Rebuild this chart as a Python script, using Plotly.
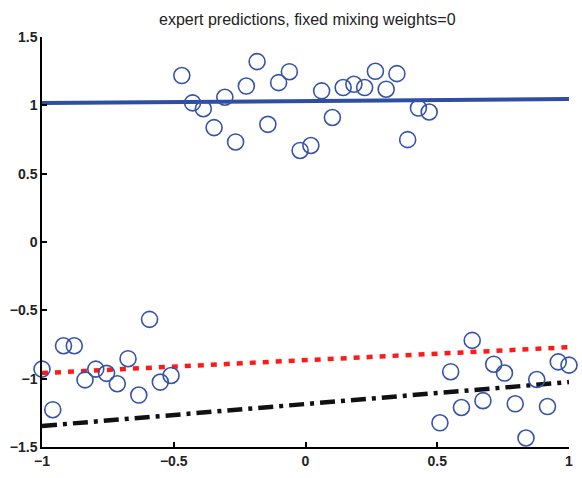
import numpy as np
import plotly.graph_objects as go

# data
x_pts = np.linspace(-1, 1, 50)
y_pts = [
    -0.930, -1.227, -0.759, -0.759, -1.009, -0.930, -0.961, -1.037, -0.854, -1.120,
    -0.566, -1.025, -0.977,
    1.218, 1.018, 0.975, 0.837, 1.059, 0.732, 1.141, 1.320, 0.861, 1.166,
    1.246, 0.670, 0.706, 1.106, 0.911, 1.130, 1.154, 1.130, 1.249, 1.118,
    1.232, 0.749, 0.980, 0.951,
    -1.323, -0.949, -1.211, -0.720, -1.161, -0.894, -0.959, -1.184, -1.434,
    -1.006, -1.204, -0.877, -0.901,
]
line_x = [-1, 1]
expert1_y = [1.017, 1.046]      # blue solid
expert2_y = [-0.959, -0.770]    # red dotted
mixture_y = [-1.346, -1.025]    # black dash-dot

x_ticks = [-1, -0.5, 0, 0.5, 1]
x_ticktext = ["\u22121", "\u22120.5", "0", "0.5", "1"]
y_ticks = [-1.5, -1, -0.5, 0, 0.5, 1, 1.5]
y_ticktext = ["\u22121.5", "\u22121", "\u22120.5", "0", "0.5", "1", "1.5"]

title = "expert predictions, fixed mixing weights=0"

fig = go.Figure()
fig.add_trace(go.Scatter(x=line_x, y=expert1_y, mode="lines",
                         line=dict(color="#2d4ea3", width=4), cliponaxis=False))
fig.add_trace(go.Scatter(x=line_x, y=expert2_y, mode="lines",
                         line=dict(color="#ff1a1a", width=4.5, dash="6px,7px"), cliponaxis=False))
fig.add_trace(go.Scatter(x=line_x, y=mixture_y, mode="lines",
                         line=dict(color="#111111", width=4.5, dash="15px,6px,4px,6px"), cliponaxis=False))
fig.add_trace(go.Scatter(x=x_pts, y=y_pts, mode="markers",
                         marker=dict(symbol="circle-open", size=16, color="#3553a8",
                                     line=dict(width=1.6, color="#3553a8")),
                         cliponaxis=False))

tickfont = dict(family="Liberation Sans, Arial, sans-serif", size=14, color="#222222", weight="bold")
fig.update_layout(
    width=582, height=478,
    margin=dict(l=42, r=9, t=37, b=22),
    paper_bgcolor="white", plot_bgcolor="white",
    showlegend=False,
    title=dict(text=title, x=0.528, xanchor="center", y=1 - 19 / 478, yanchor="middle",
               yref="container",
               font=dict(family="Liberation Sans, Arial, sans-serif", size=16, color="#222222")),
)
fig.update_xaxes(range=[-1, 1], tickvals=x_ticks, ticktext=x_ticktext,
                 showgrid=False, zeroline=False, showline=True, linecolor="black", linewidth=1.5,
                 ticks="inside", ticklen=5, tickwidth=1.5, tickcolor="black", tickfont=tickfont)
fig.update_yaxes(range=[-1.5, 1.5], tickvals=y_ticks, ticktext=y_ticktext,
                 showgrid=False, zeroline=False, showline=True, linecolor="black", linewidth=1.5,
                 ticks="inside", ticklen=5, tickwidth=1.5, tickcolor="black", tickfont=tickfont)

fig.write_html("out.html")
